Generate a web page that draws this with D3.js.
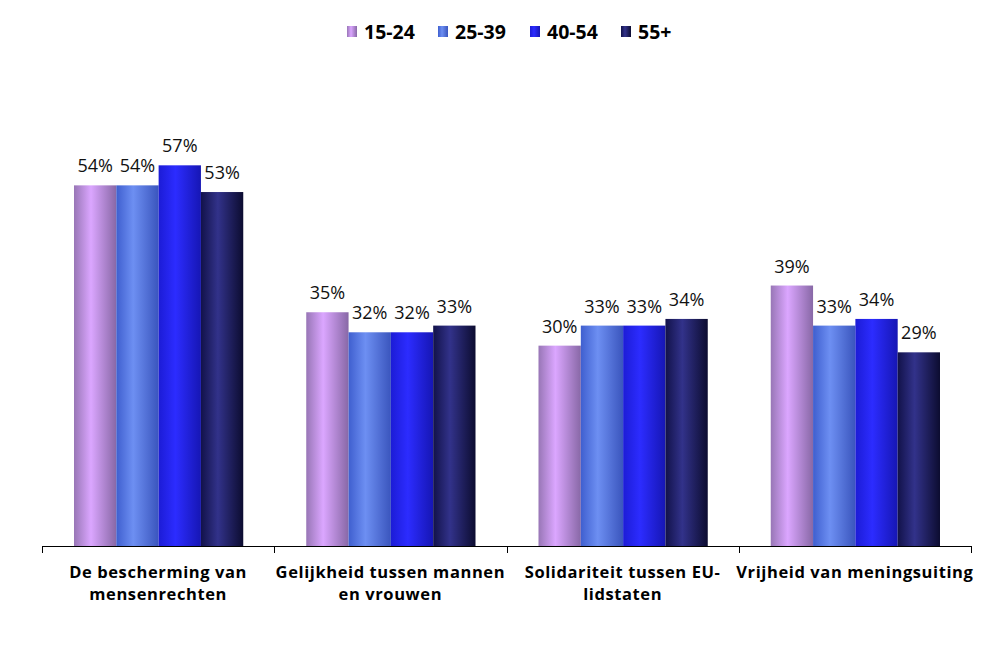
<!DOCTYPE html>
<html><head><meta charset="utf-8">
<script src="https://cdn.jsdelivr.net/npm/d3@7"></script>
<style>body{margin:0;background:#fff;} svg{display:block;}</style>
</head><body><svg id="c" width="1008" height="661"></svg>
<script>
const categories = [["De bescherming van","mensenrechten"],["Gelijkheid tussen mannen","en vrouwen"],["Solidariteit tussen EU-","lidstaten"],["Vrijheid van meningsuiting"]];
const seriesNames = ["15-24","25-39","40-54","55+"];
const v1524 = [54,35,30,39];
const v2539 = [54,32,33,33];
const v4054 = [57,32,33,34];
const v55 = [53,33,34,29];
const values = [v1524,v2539,v4054,v55];
const grads = [["#9876b6","#dba6ff","#8868a6"],["#3f5fcf","#6d8ff2","#3a55bd"],["#1c1cd6","#2c2cff","#1616b4"],["#12124a","#32328a","#0c0c30"]];

const svg = d3.select("#c");
const defs = svg.append("defs");
grads.forEach((g,i)=>{
  const lg = defs.append("linearGradient").attr("id","g"+i).attr("x1","0").attr("x2","1").attr("y1","0").attr("y2","0");
  lg.append("stop").attr("offset","0").attr("stop-color",g[0]);
  lg.append("stop").attr("offset","0.4").attr("stop-color",g[1]);
  lg.append("stop").attr("offset","1").attr("stop-color",g[2]);
});
const x0 = d3.scaleBand().domain(d3.range(categories.length)).range([42,971]).paddingInner(0).paddingOuter(0);
const x1 = d3.scaleBand().domain(d3.range(seriesNames.length)).range([32, x0.bandwidth()-31]);
const y = d3.scaleLinear().domain([0,70]).range([546,78.5]);

const g = svg.append("g");
categories.forEach((c,ci)=>{
  seriesNames.forEach((s,si)=>{
    const v = values[si][ci];
    const bx = x0(ci)+x1(si);
    g.append("rect").attr("x",bx).attr("y",y(v)).attr("width",x1.bandwidth()).attr("height",y(0)-y(v)).attr("fill","url(#g"+si+")");
    g.append("text").attr("x",bx+x1.bandwidth()/2).attr("y",y(v)-13).attr("text-anchor","middle")
      .attr("font-family","Open Sans, sans-serif").attr("font-size",18).attr("fill","#111").text(v+"%");
  });
});
// axis
const ax = svg.append("g");
ax.append("line").attr("x1",42).attr("x2",971).attr("y1",546.5).attr("y2",546.5).attr("stroke","#000");
d3.range(categories.length+1).forEach(i=>{
  const xx = Math.round(i<categories.length? x0(i): 971)+0.5;
  ax.append("line").attr("x1",xx).attr("x2",xx).attr("y1",546).attr("y2",553).attr("stroke","#000");
});
categories.forEach((c,ci)=>{
  const t = svg.append("text").attr("text-anchor","middle").attr("font-family","Open Sans, sans-serif").attr("font-weight","bold").attr("font-size",16.5).attr("letter-spacing","0.6px").attr("fill","#000");
  c.forEach((line,li)=>{
    t.append("tspan").attr("x",x0(ci)+x0.bandwidth()/2).attr("y",578+li*22).text(line);
  });
});
// legend
const legX = [347,438,530,621];
seriesNames.forEach((s,si)=>{
  svg.append("rect").attr("x",legX[si]).attr("y",26).attr("width",10).attr("height",11).attr("fill","url(#g"+si+")");
  svg.append("text").attr("x",legX[si]+17).attr("y",38.5).attr("font-family","Open Sans, sans-serif").attr("font-weight","bold").attr("font-size",19.5).attr("fill","#000").text(s);
});
</script></body></html>
